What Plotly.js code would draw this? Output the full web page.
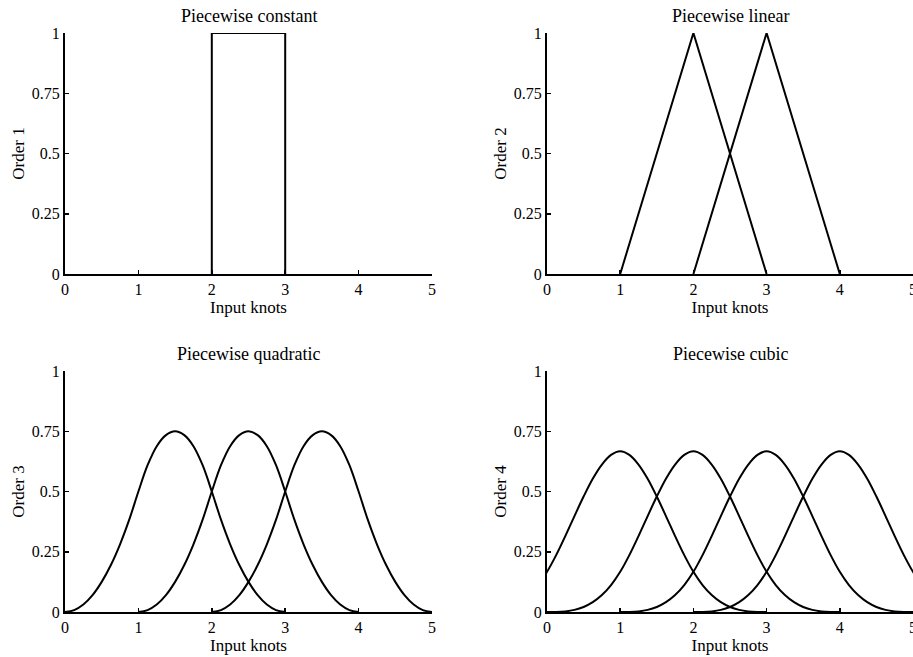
<!DOCTYPE html>
<html>
<head>
<meta charset="utf-8">
<script src="https://cdn.plot.ly/plotly-3.0.1.min.js"></script>
<style>
  html, body { margin: 0; padding: 0; background: #fff; }
  #chart { width: 913px; height: 657px; }
</style>
</head>
<body>
<div id="chart"></div>
<script>
// B-spline basis functions of increasing order on unit-spaced knots.

// Order 1: piecewise constant box on [2, 3]
const constX = [2, 2, 3, 3];
const constY = [0, 1, 1, 0];

// Order 2: piecewise linear hats
const linX = [[1, 2, 3], [2, 3, 4]];
const linY = [[0, 1, 0], [0, 1, 0]];

// Order 3: quadratic bump, sampled every 0.125 across its support [start, start + 3]
const quadStarts = [0, 1, 2];
const quadOffsets = [0, 0.125, 0.25, 0.375, 0.5, 0.625, 0.75, 0.875, 1, 1.125, 1.25, 1.375, 1.5,
                     1.625, 1.75, 1.875, 2, 2.125, 2.25, 2.375, 2.5, 2.625, 2.75, 2.875, 3];
const quadValues = [0, 0.008, 0.031, 0.070, 0.125, 0.195, 0.281, 0.383, 0.5, 0.609, 0.688, 0.734, 0.75,
                    0.734, 0.688, 0.609, 0.5, 0.383, 0.281, 0.195, 0.125, 0.070, 0.031, 0.008, 0];

// Order 4: cubic bump, sampled every 0.125 across its support [center - 2, center + 2]
const cubCenters = [1, 2, 3, 4];
const cubOffsets = [-2, -1.875, -1.75, -1.625, -1.5, -1.375, -1.25, -1.125, -1, -0.875, -0.75, -0.625, -0.5,
                    -0.375, -0.25, -0.125, 0, 0.125, 0.25, 0.375, 0.5, 0.625, 0.75, 0.875, 1,
                    1.125, 1.25, 1.375, 1.5, 1.625, 1.75, 1.875, 2];
const cubValues = [0, 0.0003, 0.0026, 0.0088, 0.0208, 0.0407, 0.0703, 0.1117, 0.1667, 0.236, 0.315, 0.398, 0.479,
                   0.553, 0.612, 0.652, 0.667, 0.652, 0.612, 0.553, 0.479, 0.398, 0.315, 0.236, 0.1667,
                   0.1117, 0.0703, 0.0407, 0.0208, 0.0088, 0.0026, 0.0003, 0];

const panelTitles = ['Piecewise constant', 'Piecewise linear', 'Piecewise quadratic', 'Piecewise cubic'];
const orderLabels = ['Order 1', 'Order 2', 'Order 3', 'Order 4'];
const xLabel = 'Input knots';
const xTickVals = [0, 1, 2, 3, 4, 5];
const yTickVals = [0, 0.25, 0.5, 0.75, 1];
const yTickText = ['0', '0.25', '0.5', '0.75', '1'];

const FONT = 'Liberation Serif, Times New Roman, serif';
const lineStyle = { color: '#000', width: 2 };

const traces = [];
function add(x, y, axisIdx, shape) {
  const sfx = axisIdx === 1 ? '' : String(axisIdx);
  traces.push({
    x: x, y: y, type: 'scatter', mode: 'lines',
    line: Object.assign({ shape: shape || 'linear' }, lineStyle),
    xaxis: 'x' + sfx, yaxis: 'y' + sfx,
    hoverinfo: 'skip', showlegend: false
  });
}
add(constX, constY, 1);
linX.forEach((x, i) => add(x, linY[i], 2));
quadStarts.forEach(s => add(quadOffsets.map(o => s + o), quadValues, 3, 'spline'));
cubCenters.forEach(c => add(cubOffsets.map(o => c + o), cubValues, 4, 'spline'));

const W = 913, H = 657;
// the right column runs to the page edge, so its last tick label is cut off
const colDomains = [[65 / W, 432 / W], [547 / W, 1]];
const rowDomains = [[(H - 274) / H, (H - 33) / H], [(H - 612) / H, (H - 371) / H]];

function xAxis(col, anchor) {
  return {
    domain: colDomains[col], range: [0, 5], anchor: anchor,
    tickvals: xTickVals, ticks: 'inside', ticklen: 4, tickwidth: 1.5, tickcolor: '#000',
    ticklabeloverflow: 'allow',
    showline: true, linewidth: 2, linecolor: '#000', showgrid: false, zeroline: false,
    tickfont: { family: FONT, size: 16, color: '#000' },
    title: { text: xLabel, font: { family: FONT, size: 17, color: '#000' }, standoff: 2 },
    fixedrange: true
  };
}
function yAxis(row, anchor, label) {
  return {
    domain: rowDomains[row], range: [0, 1], anchor: anchor,
    tickvals: yTickVals, ticktext: yTickText, ticks: 'inside', ticklen: 4, tickwidth: 1.5, tickcolor: '#000',
    showline: true, linewidth: 2, linecolor: '#000', showgrid: false, zeroline: false,
    tickfont: { family: FONT, size: 16, color: '#000' },
    title: { text: label, font: { family: FONT, size: 17, color: '#000' }, standoff: 3 },
    fixedrange: true
  };
}

const annotations = panelTitles.map((t, i) => {
  const col = i % 2, row = Math.floor(i / 2);
  const cx = (colDomains[col][0] + colDomains[col][1]) / 2;
  return {
    text: t, showarrow: false, xref: 'paper', yref: 'paper',
    x: cx, y: row === 0 ? (H - 16) / H : (H - 354) / H,
    xanchor: 'center', yanchor: 'middle',
    font: { family: FONT, size: 18, color: '#000' }
  };
});

const layout = {
  width: W, height: H,
  margin: { l: 0, r: 0, t: 0, b: 0 },
  paper_bgcolor: '#fff', plot_bgcolor: '#fff',
  font: { family: FONT, color: '#000' },
  showlegend: false,
  xaxis: xAxis(0, 'y'), yaxis: yAxis(0, 'x', orderLabels[0]),
  xaxis2: xAxis(1, 'y2'), yaxis2: yAxis(0, 'x2', orderLabels[1]),
  xaxis3: xAxis(0, 'y3'), yaxis3: yAxis(1, 'x3', orderLabels[2]),
  xaxis4: xAxis(1, 'y4'), yaxis4: yAxis(1, 'x4', orderLabels[3]),
  annotations: annotations
};

Plotly.newPlot('chart', traces, layout, { displayModeBar: false, staticPlot: true });
</script>
</body>
</html>
